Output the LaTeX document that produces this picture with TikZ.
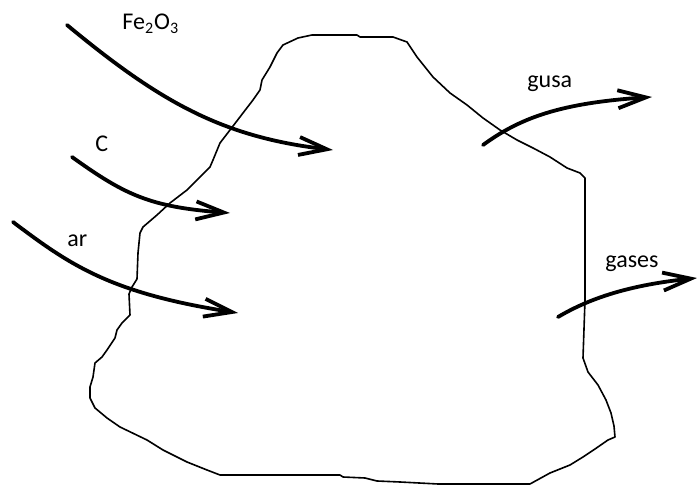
\documentclass[tikz,border=0pt]{standalone}
\usepackage{fontspec}
\setmainfont{Carlito}
\usepackage{tikz}
\usetikzlibrary{arrows.meta}
\definecolor{ink}{HTML}{000000}
\tikzset{
  wall/.style={draw=ink, line width=0.8pt, line join=round},
  feed/.style={draw=ink, line width=1.9pt, line cap=round,
               -{Straight Barb[length=14pt,width=9pt]}},
  tag/.style={font=\fontsize{12}{14}\selectfont, text=ink, inner sep=0pt, anchor=base west}
}
\begin{document}
\begin{tikzpicture}[x=0.5pt,y=-0.5pt]
        \useasboundingbox (0,0) rectangle (697,485);
        % furnace outline
        \draw[wall] (298,38) -- (312,35) -- (357,35) -- (360,37) -- (393,37) -- (407,42)
          -- (417,57) -- (433,77) -- (450,93) -- (467,105) -- (483,118) -- (500,130)
          -- (517,140) -- (533,148) -- (550,157) -- (567,168) -- (580,173) -- (585,178)
          -- (585,300) -- (583,358) -- (588,372) -- (598,385) -- (606,400) -- (611,413)
          -- (614,426) -- (615,437) -- (608,440) -- (595,449) -- (583,457) -- (570,465)
          -- (550,473) -- (530,484) -- (438,484) -- (400,482) -- (377,481) -- (365,478)
          -- (343,477) -- (340,475) -- (220,475) -- (207,470) -- (187,462) -- (163,450)
          -- (147,440) -- (120,427) -- (107,418) -- (95,408) -- (90,398) -- (90,387)
          -- (93,377) -- (95,363) -- (102,357) -- (107,350) -- (115,338) -- (117,330)
          -- (122,323) -- (130,315) -- (129,294) -- (132,287) -- (137,279) -- (138,253)
          -- (140,233) -- (143,227) -- (157,215) -- (170,203) -- (187,190) -- (200,177)
          -- (210,167) -- (213,160) -- (220,143) -- (230,130) -- (243,113) -- (253,100)
          -- (260,90) -- (262,80) -- (270,67) -- (277,53) -- (283,45) -- cycle;
        % inputs and outputs
        \coordinate (fe-in) at (67,25);   \coordinate (fe-out) at (333,150);
        \coordinate (c-in) at (72,157);   \coordinate (c-out) at (230,213);
        \coordinate (ar-in) at (13,222);  \coordinate (ar-out) at (238,313);
        \coordinate (gusa-in) at (483,145); \coordinate (gusa-out) at (652,97);
        \coordinate (gas-in) at (558,317);  \coordinate (gas-out) at (697,278);
        \node[tag] (fe) at (122,30) {Fe\textsubscript{2}O\textsubscript{3}};
        \node[tag] (c) at (95,152) {C};
        \node[tag] (ar) at (67,247) {ar};
        \node[tag] (gusa) at (527,88) {gusa};
        \node[tag] (gases) at (605,268) {gases};
        \draw[feed] (fe-in) .. controls (160,102) and (222,137) .. (fe-out);
        \draw[feed] (c-in) .. controls (125,195) and (150,207) .. (c-out);
        \draw[feed] (ar-in) .. controls (70,265) and (110,293) .. (ar-out);
        \draw[feed] (gusa-in) .. controls (520,118) and (560,103) .. (gusa-out);
        \draw[feed] (gas-in) .. controls (590,298) and (630,285) .. (gas-out);
      \end{tikzpicture}
\end{document}
